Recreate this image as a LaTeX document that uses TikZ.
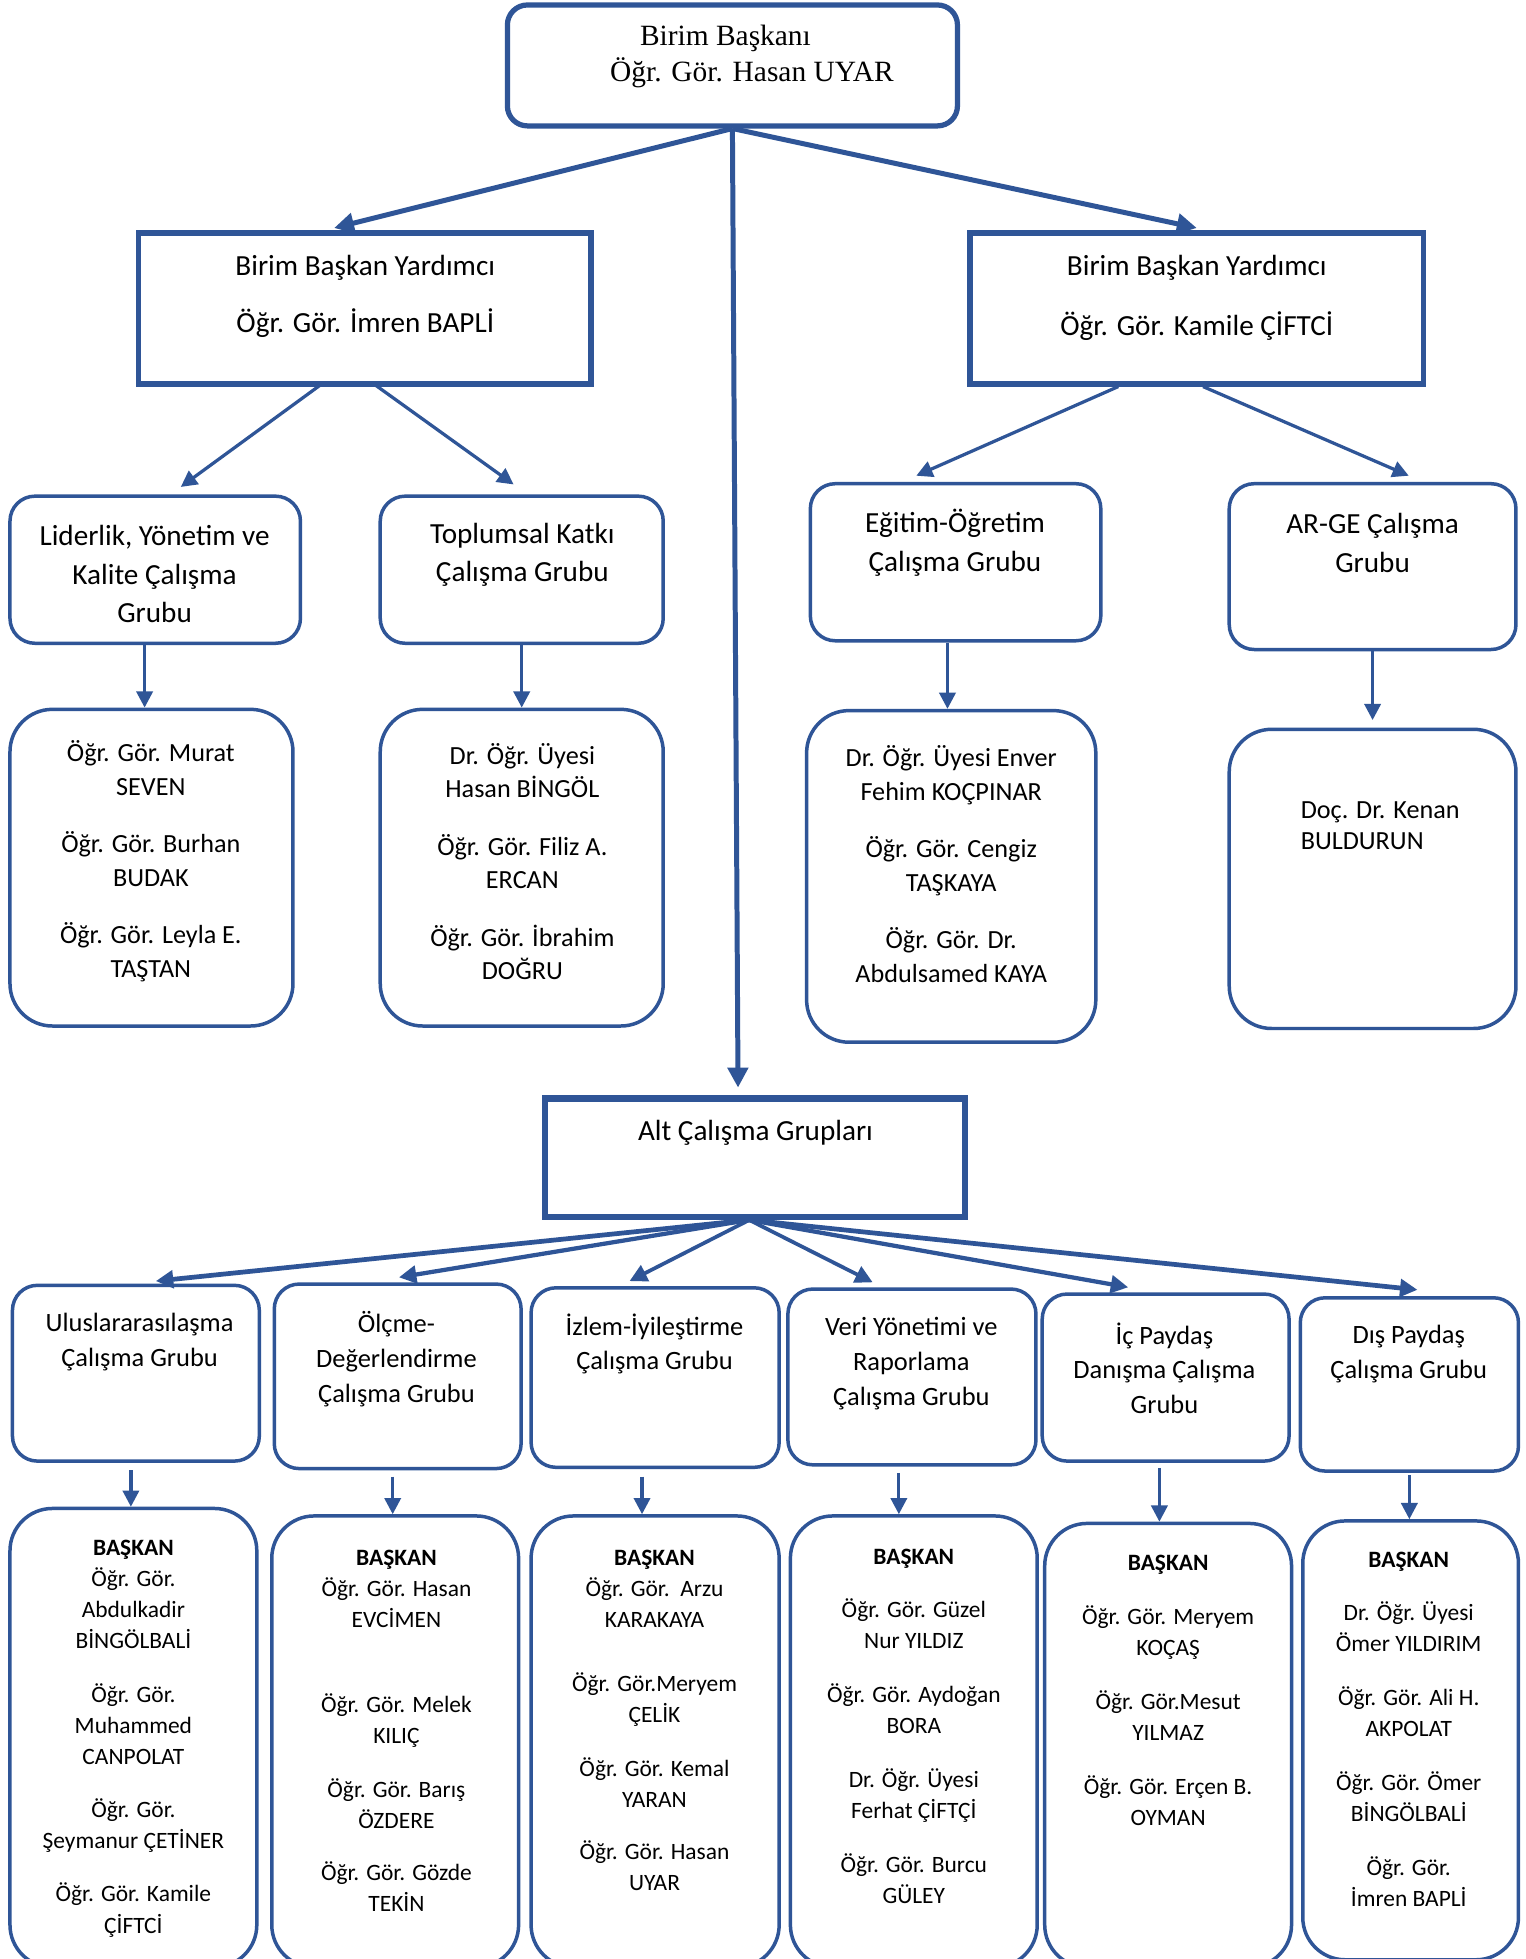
\documentclass[tikz,border=0pt]{standalone}
\usepackage{fontspec}
\setmainfont{Carlito}
\newfontfamily\timesf{Liberation Serif}
\usetikzlibrary{arrows.meta,calc}
\definecolor{obl}{RGB}{47,85,151}
\begin{document}
\begin{tikzpicture}[x=0.5pt,y=-0.5pt,
  bx/.style 2 args={draw=obl, minimum width=#1*0.5pt, minimum height=#2*0.5pt, inner sep=0pt},
  sqbox/.style={line width=2.1pt},
  rbox/.style={line width=1.4pt, rounded corners=#1},
  txt/.style={inner sep=0pt, align=center, text=black, yshift=-1.5pt},
  arr/.style={draw=obl, -{Triangle[length=7pt,width=7pt]}},
  arrbig/.style={arr, line width=2pt, -{Triangle[length=8pt,width=8pt]}},
  arrmid/.style={arr, line width=1.5pt},
  arrsm/.style={arr, line width=1.3pt, -{Triangle[length=6.5pt,width=6.5pt]}},
  fa/.style={font=\fontsize{11.7}{23}\selectfont},
  fb/.style={font=\fontsize{11.7}{15.5}\selectfont},
  fc/.style={font=\fontsize{10.5}{13.5}\selectfont},
  fd/.style={font=\fontsize{10.6}{14}\selectfont},
  fe/.style={font=\fontsize{9.4}{12.5}\selectfont}
]
\useasboundingbox (0,0) rectangle (1224,1571.4);
\fill[white] (0,0) rectangle (1224,1571.4);
\clip (0,0) rectangle (1224,1571.4);

% ---------- boxes ----------
\node[bx={361}{97}, line width=2.1pt, rounded corners=8pt] (top) at (587.5,52.5) {};
\node[bx={363}{121}, sqbox] (yl) at (292.5,247.5) {};
\node[bx={364}{121}, sqbox] (yr) at (960,247.5) {};

\node[bx={233}{118}, rbox=10pt] (g1) at (124.5,457) {};
\node[bx={227}{118}, rbox=10pt] (g2) at (418.5,457) {};
\node[bx={233}{126}, rbox=10pt] (g3) at (766.5,451) {};
\node[bx={230}{133}, rbox=10pt] (g4) at (1101,454.5) {};

\node[bx={227}{254}, rbox=17pt] (m1) at (121.5,696) {};
\node[bx={227}{254}, rbox=17pt] (m2) at (418.5,696) {};
\node[bx={232}{266}, rbox=17pt] (m3) at (763,703) {};
\node[bx={230}{240}, rbox=17pt] (m4) at (1101,705) {};

\node[bx={337}{95}, line width=2.6pt] (alt) at (605.5,928.5) {};

\node[bx={198}{141}, rbox=10pt] (s1) at (109,1101.5) {};
\node[bx={198}{148}, rbox=10pt] (s2) at (319,1104) {};
\node[bx={199}{144}, rbox=10pt] (s3) at (525.5,1105) {};
\node[bx={199}{141}, rbox=10pt] (s4) at (731.5,1104.5) {};
\node[bx={198}{134}, rbox=10pt] (s5) at (935,1105) {};
\node[bx={175}{139}, rbox=10pt] (s6) at (1130.5,1110.5) {};

\node[bx={198}{368}, rbox=17pt] (b1) at (107,1394) {};
\node[bx={198}{362}, rbox=17pt] (b2) at (317,1397) {};
\node[bx={199}{362}, rbox=17pt] (b3) at (525.5,1397) {};
\node[bx={198}{362}, rbox=17pt] (b4) at (733,1397) {};
\node[bx={198}{356}, rbox=17pt] (b5) at (937,1400) {};
\node[bx={173}{352}, rbox=17pt] (b6) at (1131.5,1396) {};

% ---------- texts ----------
\node[txt, align=left, anchor=west, font=\timesf\fontsize{11.8}{14.5}\selectfont] (ttop) at (489,42.5)
  {\hspace*{12pt}Birim Başkanı\\Öğr. Gör. Hasan UYAR};
\node[txt, fa] (tyl) at (293,235) {Birim Başkan Yardımcı\\Öğr. Gör. İmren BAPLİ};
\node[txt, font=\fontsize{11.7}{24}\selectfont] (tyr) at (960,236) {Birim Başkan Yardımcı\\Öğr. Gör. Kamile ÇİFTCİ};

\node[txt, fb] (tg1) at (124,457.5) {Liderlik, Yönetim ve\\Kalite Çalışma\\Grubu};
\node[txt, fb] (tg2) at (419,442) {Toplumsal Katkı\\Çalışma Grubu};
\node[txt, fb] (tg3) at (766,432.5) {Eğitim-Öğretim\\Çalışma Grubu};
\node[txt, fb] (tg4) at (1101,432.5) {AR-GE Çalışma\\Grubu};

\node[txt, fc] (tm1) at (121,688) {Öğr. Gör. Murat\\SEVEN\\[9.5pt]Öğr. Gör. Burhan\\BUDAK\\[9.5pt]Öğr. Gör. Leyla E.\\TAŞTAN};
\node[txt, fc] (tm2) at (419,688) {Dr. Öğr. Üyesi\\Hasan BİNGÖL\\[9.5pt]Öğr. Gör. Filiz A.\\ERCAN\\[9.5pt]Öğr. Gör. İbrahim\\DOĞRU};
\node[txt, fc] (tm3) at (763,690) {Dr. Öğr. Üyesi Enver\\Fehim KOÇPINAR\\[9.5pt]Öğr. Gör. Cengiz\\TAŞKAYA\\[9.5pt]Öğr. Gör. Dr.\\Abdulsamed KAYA};
\node[txt, align=left, anchor=west, font=\fontsize{10.5}{12.5}\selectfont] (tm4) at (1043,659.5) {Doç. Dr. Kenan\\BULDURUN};

\node[txt, fa] (talt) at (606,906) {Alt Çalışma Grupları};

\node[txt, fd] (ts1) at (112,1073.5) {Uluslararasılaşma\\Çalışma Grubu};
\node[txt, fd] (ts2) at (318,1087.5) {Ölçme-\\Değerlendirme\\Çalışma Grubu};
\node[txt, fd] (ts3) at (525,1075) {İzlem-İyileştirme\\Çalışma Grubu};
\node[txt, fd] (ts4) at (731,1091) {Veri Yönetimi ve\\Raporlama\\Çalışma Grubu};
\node[txt, fd] (ts5) at (934,1094.5) {İç Paydaş\\Danışma Çalışma\\Grubu};
\node[txt, fd] (ts6) at (1130,1083) {Dış Paydaş\\Çalışma Grubu};

\node[txt, fe] (tb1) at (107,1391.5) {\textbf{BAŞKAN}\\Öğr. Gör.\\Abdulkadir\\BİNGÖLBALİ\\[9pt]Öğr. Gör.\\Muhammed\\CANPOLAT\\[8.5pt]Öğr. Gör.\\Şeymanur ÇETİNER\\[9pt]Öğr. Gör. Kamile\\ÇİFTCİ};
\node[txt, fe] (tb2) at (318,1385.5) {\textbf{BAŞKAN}\\Öğr. Gör. Hasan\\EVCİMEN\\[21.5pt]Öğr. Gör. Melek\\KILIÇ\\[9pt]Öğr. Gör. Barış\\ÖZDERE\\[8.5pt]Öğr. Gör. Gözde\\TEKİN};
\node[txt, fe] (tb3) at (525,1377) {\textbf{BAŞKAN}\\Öğr. Gör.~~Arzu\\KARAKAYA\\[13pt]Öğr. Gör.Meryem\\ÇELİK\\[9pt]Öğr. Gör. Kemal\\YARAN\\[8.5pt]Öğr. Gör. Hasan\\UYAR};
\node[txt, fe] (tb4) at (733,1381.5) {\textbf{BAŞKAN}\\[9pt]Öğr. Gör. Güzel\\Nur YILDIZ\\[9pt]Öğr. Gör. Aydoğan\\BORA\\[9pt]Dr. Öğr. Üyesi\\Ferhat ÇİFTÇİ\\[9pt]Öğr. Gör. Burcu\\GÜLEY};
\node[txt, fe] (tb5) at (937,1353) {\textbf{BAŞKAN}\\[9pt]Öğr. Gör. Meryem\\KOÇAŞ\\[9pt]Öğr. Gör.Mesut\\YILMAZ\\[9pt]Öğr. Gör. Erçen B.\\OYMAN};
\node[txt, fe] (tb6) at (1130,1384) {\textbf{BAŞKAN}\\[9pt]Dr. Öğr. Üyesi\\Ömer YILDIRIM\\[9pt]Öğr. Gör. Ali H.\\AKPOLAT\\[9pt]Öğr. Gör. Ömer\\BİNGÖLBALİ\\[9pt]Öğr. Gör.\\İmren BAPLİ};

% ---------- connectors ----------
\draw[arrbig] (top.south) -- ($(yl.north)+(-24.5,-2)$);
\draw[arrbig] (top.south) -- ($(yr.north)+(0,-2)$);
\draw[arrbig] (top.south) -- ($(alt.north)+(-13.5,-6)$);

\draw[arrsm] ($(yl.south)+(-34.5,-2)$) -- ($(g1.north)+(20.5,-6)$);
\draw[arrsm] ($(yl.south)+(7.5,-2)$) -- ($(g2.north)+(-6.5,-8)$);
\draw[arrsm] ($(yr.south)+(-63,0)$) -- ($(g3.north)+(-31.5,-5)$);
\draw[arrsm] ($(yr.south)+(5,0)$) -- ($(g4.north)+(29,-5)$);

\draw[arrsm] ($(g1.south)+(-8.5,0)$) -- ($(m1.north)+(-5.5,0)$);
\draw[arrsm] (g2.south) -- (m2.north);
\draw[arrsm] ($(g3.south)+(-6.5,0)$) -- ($(m3.north)+(-3,0)$);
\draw[arrsm] (g4.south) -- ($(m4.north)+(0,-6)$);

\coordinate (ao) at ($(alt.south)+(-4.5,0)$);
\draw[arrmid, line width=1.9pt] (ao) -- ($(s1.north)+(16,-2)$);
\draw[arrmid, line width=1.7pt] (ao) -- ($(s2.north)+(1,-4)$);
\draw[arrmid] (ao) -- ($(s3.north)+(-20.5,-4)$);
\draw[arrmid] (ao) -- ($(s4.north)+(-31.5,-4)$);
\draw[arrmid, line width=1.7pt] (ao) -- ($(s5.north)+(-30,-4)$);
\draw[arrmid, line width=1.9pt] (ao) -- ($(s6.north)+(6.5,-5)$);

\draw[arrsm] ($(s1.south)+(-4,6)$) -- ($(b1.north)+(-2,0)$);
\draw[arrsm] ($(s2.south)+(-4,5)$) -- ($(b2.north)+(-2,0)$);
\draw[arrsm] ($(s3.south)+(-10.5,6)$) -- ($(b3.north)+(-10.5,0)$);
\draw[arrsm] ($(s4.south)+(-10.5,5)$) -- ($(b4.north)+(-12,0)$);
\draw[arrsm] ($(s5.south)+(-5,4)$) -- ($(b5.north)+(-7,0)$);
\draw[arrsm] ($(s6.south)+(0,2)$) -- ($(b6.north)+(-1,0)$);
\end{tikzpicture}
\end{document}
